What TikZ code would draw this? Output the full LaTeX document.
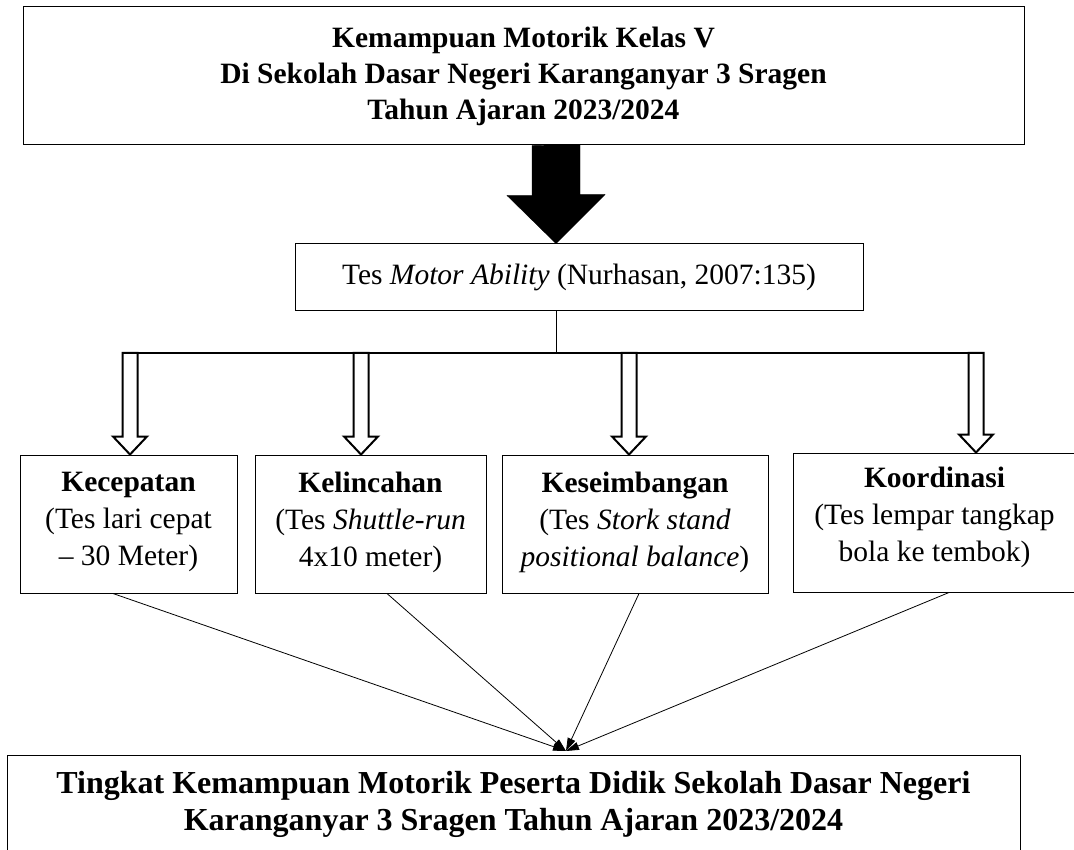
\documentclass[tikz,border=0pt]{standalone}
\usepackage{fontspec}
\setmainfont{Liberation Serif}
\usetikzlibrary{positioning,arrows.meta,calc}

\begin{document}
\begin{tikzpicture}[x=1pt,y=-1pt,
    kotak/.style={draw,line width=1pt,inner sep=0pt,minimum height=#1},
    teks/.style={inner sep=0pt,align=center,font=\fontsize{29.5}{37}\selectfont},
    tebal/.style={teks,font=\fontsize{29.5}{36}\selectfont\bfseries},
    panah/.style={draw,line width=2pt,fill=white,line join=miter},
    garis/.style={line width=0.8pt,-{Triangle[length=13pt,width=8pt]}}]
  \useasboundingbox (0,0) rectangle (1074,850);

  % judul di atas
  \node[kotak=138pt,minimum width=1001pt,tebal] (judul) at (523.5,76)
    {Kemampuan Motorik Kelas V\\Di Sekolah Dasar Negeri Karanganyar 3 Sragen\\Tahun Ajaran 2023/2024};

  \node[kotak=67pt,minimum width=568pt,teks] (tes) at (579,277.5)
    {Tes \textit{Motor Ability} (Nurhasan, 2007:135)};

  % panah hitam besar
  \coordinate (tengah) at (556,0);
  \filldraw[line join=miter] (judul.south -| tengah) ++(-24,0) -- ++(0,50) -- ++(-25,0)
    -- (tes.north -| tengah) -- ++(49,-49) -- ++(-25,0) -- ++(0,-50) -- cycle;

  % empat tes
  \node[kotak=138pt,minimum width=217pt] (kec) at (128.5,524) {};
  \node[kotak=138pt,minimum width=231pt] (kel) at (370.5,524) {};
  \node[kotak=138pt,minimum width=266pt] (kes) at (635,524) {};
  \node[kotak=139pt,minimum width=290pt] (koo) at (938,522.5) {};

  \node[teks,below=17pt of kec.north] (kecT) {\textbf{Kecepatan}\\(Tes lari cepat\\– 30 Meter)};
  \node[teks,below=17pt of kel.north] (kelT) {\textbf{Kelincahan}\\(Tes \textit{Shuttle-run}\\4x10 meter)};
  \node[teks,below=17pt of kes.north] (kesT) {\textbf{Keseimbangan}\\(Tes \textit{Stork stand}\\\textit{positional balance})};
  \node[teks,below=14pt of koo.north,xshift=-3.5pt] (kooT) {\textbf{Koordinasi}\\(Tes lempar tangkap\\bola ke tembok)};

  % cabang
  \coordinate (a1) at (130,353);
  \coordinate (a2) at (361,353);
  \coordinate (a3) at (629,353);
  \coordinate (a4) at (976,353);
  \draw[line width=1pt] (tes.south -| tengah) -- (a1 -| tengah);
  \draw[line width=1.2pt] ([xshift=-7.5pt]a1) -- ([xshift=7.5pt]a4);
  \foreach \p/\k in {a1/kec,a2/kel,a3/kes,a4/koo}
    \draw[panah] (\p |- \k.north) -- ++(-17,-18) -- ++(9.5,0) -- ([xshift=-7.5pt]\p)
      -- ([xshift=7.5pt]\p) -- ($(\p |- \k.north)+(7.5,-18)$) -- ++(9.5,0) -- cycle;

  % hasil
  \node[kotak=110pt,minimum width=1013pt] (hasil) at (513.5,810) {};
  \node[teks,font=\fontsize{32}{37}\selectfont\bfseries,below=17pt of hasil.north] (hasilT)
    {Tingkat Kemampuan Motorik Peserta Didik Sekolah Dasar Negeri\\Karanganyar 3 Sragen Tahun Ajaran 2023/2024};

  \coordinate (temu) at (566,751);
  \draw[garis] ([xshift=-15.5pt]kec.south) -- (temu);
  \draw[garis] ([xshift=16.5pt]kel.south) -- (temu);
  \draw[garis] ([xshift=4pt]kes.south) -- (temu);
  \draw[garis] ([xshift=11pt]koo.south) -- (temu);
\end{tikzpicture}
\end{document}
